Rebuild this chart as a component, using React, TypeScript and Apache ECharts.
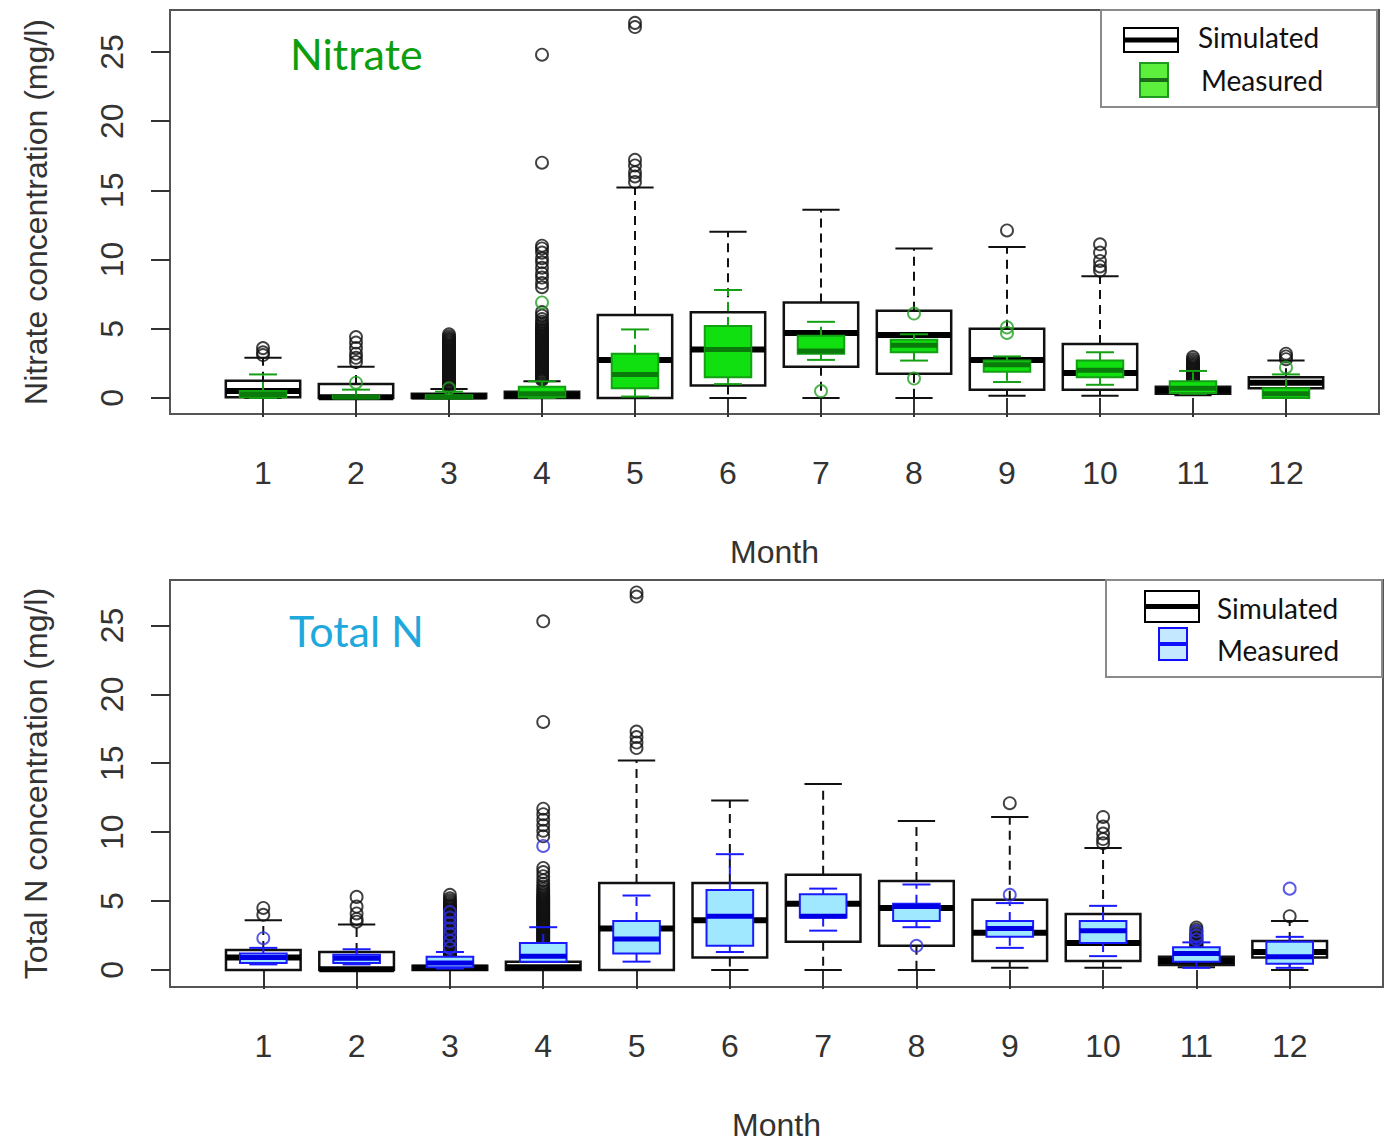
import React, { useEffect, useRef } from "react";
import * as echarts from "echarts";

// ---------- DATA ----------
const months = [1, 2, 3, 4, 5, 6, 7, 8, 9, 10, 11, 12];
const yTicks = [0, 5, 10, 15, 20, 25];

// [lowerWhisker, q1, median, q3, upperWhisker]
const nitrateSimulated = [
  [0, 0.05, 0.5, 1.24, 2.9],
  [0, 0, 0.05, 1.0, 2.25],
  [0, 0, 0.1, 0.3, 0.65],
  [0, 0, 0.2, 0.45, 1.2],
  [0, 0, 2.75, 6.0, 15.2],
  [0, 0.9, 3.5, 6.2, 12.0],
  [0, 2.25, 4.7, 6.9, 13.6],
  [0, 1.75, 4.55, 6.3, 10.8],
  [0.15, 0.6, 2.75, 5.0, 10.9],
  [0.15, 0.6, 1.8, 3.9, 8.8],
  [0.2, 0.3, 0.55, 0.8, 1.05],
  [0.6, 0.7, 1.1, 1.5, 2.7],
];
const nitrateMeasured = [
  [0.0, 0.05, 0.25, 0.5, 1.7],
  [0.0, 0.0, 0.05, 0.15, 0.6],
  [0.0, 0.0, 0.05, 0.2, 0.45],
  [0.0, 0.05, 0.3, 0.8, 1.2],
  [0.1, 0.7, 1.7, 3.2, 4.95],
  [1.0, 1.5, 3.5, 5.2, 7.8],
  [2.75, 3.2, 3.4, 4.5, 5.5],
  [2.7, 3.3, 3.8, 4.2, 4.6],
  [1.15, 1.9, 2.4, 2.7, 3.0],
  [0.95, 1.5, 2.0, 2.7, 3.3],
  [0.3, 0.35, 0.7, 1.2, 1.95],
  [0.0, 0.0, 0.3, 0.7, 1.7],
];
const nitrateSimOutliers = [
  [3.1, 3.3, 3.6],
  [2.6, 2.9, 3.2, 3.6, 4.0, 4.4],
  [0.72, 0.79, 0.88, 0.95, 1.04, 1.11, 1.19, 1.28, 1.36, 1.43, 1.52, 1.6, 1.67, 1.76, 1.84, 1.91, 2.0, 2.08, 2.15, 2.24, 2.32, 2.4, 2.47, 2.56, 2.63, 2.72, 2.8, 2.87, 2.96, 3.04, 3.11, 3.2, 3.27, 3.36, 3.44, 3.51, 3.6, 3.68, 3.75, 3.84, 3.92, 4.0, 4.07, 4.16, 4.24, 4.33, 4.45, 4.6],
  [1.31, 1.38, 1.47, 1.55, 1.62, 1.71, 1.79, 1.86, 1.95, 2.03, 2.1, 2.19, 2.27, 2.35, 2.42, 2.51, 2.59, 2.66, 2.75, 2.83, 2.9, 2.99, 3.07, 3.14, 3.23, 3.31, 3.39, 3.46, 3.55, 3.63, 3.7, 3.79, 3.87, 3.94, 4.03, 4.11, 4.18, 4.27, 4.35, 4.43, 4.5, 4.59, 4.67, 4.74, 4.83, 4.91, 5.0, 5.1, 5.22, 5.35, 5.5, 5.7, 5.95, 6.2, 8.0, 8.3, 8.7, 9.0, 9.4, 9.8, 10.1, 10.5, 10.8, 11.0, 17.0, 24.8],
  [15.6, 16.0, 16.3, 16.8, 17.2, 26.8, 27.1],
  [],
  [],
  [],
  [12.1],
  [9.2, 9.5, 9.9, 10.5, 11.1],
  [1.08, 1.15, 1.24, 1.31, 1.4, 1.48, 1.55, 1.64, 1.72, 1.79, 1.88, 1.96, 2.03, 2.12, 2.2, 2.28, 2.36, 2.45, 2.55, 2.66, 2.8, 2.95],
  [2.8, 3.0, 3.2],
];
const nitrateMeasOutliers = [
  [],
  [1.1],
  [0.7],
  [6.9],
  [],
  [],
  [0.5],
  [6.1, 1.4],
  [4.7, 5.1],
  [],
  [],
  [2.2],
];

const totalNSimulated = [
  [0, 0, 0.9, 1.45, 3.6],
  [0, 0, 0.05, 1.3, 3.3],
  [0, 0, 0.15, 0.3, 0.7],
  [0, 0, 0.2, 0.6, 1.3],
  [0, 0, 3.0, 6.3, 15.2],
  [0, 0.9, 3.6, 6.3, 12.3],
  [0, 2.05, 4.8, 6.9, 13.5],
  [0, 1.75, 4.5, 6.45, 10.8],
  [0.15, 0.65, 2.7, 5.1, 11.1],
  [0.15, 0.65, 1.95, 4.05, 8.85],
  [0.2, 0.35, 0.65, 0.95, 1.3],
  [0, 0.9, 1.3, 2.1, 3.55],
];
const totalNMeasured = [
  [0.4, 0.5, 0.9, 1.2, 1.6],
  [0.4, 0.5, 0.85, 1.1, 1.5],
  [0.1, 0.2, 0.5, 0.95, 1.3],
  [0.6, 0.6, 1.0, 1.95, 3.1],
  [0.6, 1.2, 2.25, 3.55, 5.4],
  [1.3, 1.75, 3.9, 5.8, 8.4],
  [2.85, 3.8, 3.9, 5.5, 5.9],
  [3.1, 3.55, 4.6, 4.8, 6.2],
  [1.6, 2.4, 3.0, 3.55, 4.85],
  [1.0, 1.95, 2.85, 3.55, 4.65],
  [0.15, 0.6, 1.2, 1.65, 2.0],
  [0.15, 0.45, 0.95, 2.05, 2.4],
];
const totalNSimOutliers = [
  [4.0, 4.5],
  [3.5, 3.7, 4.1, 4.6, 5.3],
  [0.78, 0.86, 0.93, 1.02, 1.1, 1.17, 1.26, 1.34, 1.41, 1.5, 1.58, 1.65, 1.74, 1.82, 1.89, 1.98, 2.06, 2.13, 2.22, 2.3, 2.38, 2.45, 2.54, 2.62, 2.69, 2.78, 2.86, 2.93, 3.02, 3.1, 3.17, 3.26, 3.34, 3.41, 3.5, 3.58, 3.65, 3.74, 3.82, 3.9, 3.97, 4.06, 4.14, 4.21, 4.3, 4.38, 4.45, 4.54, 4.62, 4.7, 4.8, 4.92, 5.05, 5.2, 5.45],
  [1.4, 1.48, 1.55, 1.64, 1.72, 1.79, 1.88, 1.96, 2.03, 2.12, 2.2, 2.27, 2.36, 2.44, 2.51, 2.6, 2.68, 2.75, 2.84, 2.92, 2.99, 3.08, 3.16, 3.23, 3.32, 3.4, 3.47, 3.56, 3.64, 3.71, 3.8, 3.88, 3.95, 4.04, 4.12, 4.19, 4.28, 4.36, 4.43, 4.52, 4.6, 4.67, 4.76, 4.84, 4.91, 5.0, 5.08, 5.16, 5.25, 5.35, 5.46, 5.58, 5.72, 5.88, 6.05, 6.25, 6.5, 6.8, 7.1, 7.4, 9.7, 10.1, 10.5, 10.9, 11.3, 11.7, 18.0, 25.3],
  [16.1, 16.5, 16.9, 17.3, 27.1, 27.4],
  [],
  [],
  [],
  [12.1],
  [9.2, 9.5, 9.9, 10.4, 11.1],
  [1.32, 1.4, 1.47, 1.56, 1.64, 1.71, 1.8, 1.88, 1.95, 2.04, 2.12, 2.19, 2.28, 2.36, 2.45, 2.55, 2.66, 2.78, 2.92, 3.08],
  [3.9],
];
const totalNMeasOutliers = [
  [2.3],
  [],
  [1.6, 2.1, 2.6, 3.0, 3.4, 3.8, 4.2],
  [9.0],
  [],
  [],
  [],
  [1.75],
  [5.45],
  [],
  [2.2, 2.5, 2.8],
  [5.9],
];

// ---------- HELPERS ----------
const AXIS_FONT = "Liberation Sans";
const LABEL_FONT = "Lato";
const TEXT_COLOR = "#333";

function boxData(stats: number[][]) {
  return stats.map((s, i) => [months[i], s[0], s[1], s[2], s[3], s[4]]);
}
function outlierData(lists: number[][]) {
  const out: number[][] = [];
  lists.forEach((l, i) => l.forEach((v) => out.push([months[i], v])));
  return out;
}

function makeRender(o: {
  boxW: number;
  capW: number;
  fill: string;
  stroke: string;
  median: string;
  boxLW: number;
  whiskLW: number;
  medLW: number;
}) {
  return (params: any, api: any) => {
    const x = api.value(0);
    const lo = api.value(1);
    const q1 = api.value(2);
    const med = api.value(3);
    const q3 = api.value(4);
    const hi = api.value(5);
    const bw = api.size([o.boxW, 0])[0];
    const cw = api.size([o.capW, 0])[0];
    const pLo = api.coord([x, lo]);
    const pQ1 = api.coord([x, q1]);
    const pMed = api.coord([x, med]);
    const pQ3 = api.coord([x, q3]);
    const pHi = api.coord([x, hi]);
    const cx = pLo[0];
    const dash = [9, 6];
    return {
      type: "group",
      children: [
        {
          type: "line",
          shape: { x1: cx, y1: pQ3[1], x2: cx, y2: pHi[1] },
          style: { stroke: o.stroke, lineWidth: o.whiskLW, lineDash: dash },
        },
        {
          type: "line",
          shape: { x1: cx, y1: pQ1[1], x2: cx, y2: pLo[1] },
          style: { stroke: o.stroke, lineWidth: o.whiskLW, lineDash: dash },
        },
        {
          type: "line",
          shape: { x1: cx - cw / 2, y1: pHi[1], x2: cx + cw / 2, y2: pHi[1] },
          style: { stroke: o.stroke, lineWidth: o.whiskLW },
        },
        {
          type: "line",
          shape: { x1: cx - cw / 2, y1: pLo[1], x2: cx + cw / 2, y2: pLo[1] },
          style: { stroke: o.stroke, lineWidth: o.whiskLW },
        },
        {
          type: "rect",
          shape: { x: cx - bw / 2, y: pQ3[1], width: bw, height: pQ1[1] - pQ3[1] },
          style: { fill: o.fill, stroke: o.stroke, lineWidth: o.boxLW },
        },
        {
          type: "line",
          shape: { x1: cx - bw / 2, y1: pMed[1], x2: cx + bw / 2, y2: pMed[1] },
          style: { stroke: o.median, lineWidth: o.medLW },
        },
      ],
    };
  };
}

function panelAxes(idx: number, yMin: number, yMax: number, yName: string) {
  const x = {
    type: "value",
    gridIndex: idx,
    min: 0,
    max: 13,
    axisLine: { show: false },
    splitLine: { show: false },
    axisTick: { show: true, length: 19, customValues: months, lineStyle: { color: TEXT_COLOR, width: 2 } },
    axisLabel: { customValues: months, fontSize: 32, color: TEXT_COLOR, margin: 43, fontFamily: AXIS_FONT },
    name: "Month",
    nameLocation: "middle",
    nameGap: 122,
    nameTextStyle: { fontSize: 32, color: TEXT_COLOR, fontFamily: AXIS_FONT },
  };
  const y = {
    type: "value",
    gridIndex: idx,
    min: yMin,
    max: yMax,
    axisLine: { show: false },
    splitLine: { show: false },
    axisTick: { show: true, length: 19, customValues: yTicks, lineStyle: { color: TEXT_COLOR, width: 2 } },
    axisLabel: { customValues: yTicks, fontSize: 32, color: TEXT_COLOR, margin: 42, rotate: 90, fontFamily: AXIS_FONT },
    name: yName,
    nameLocation: "middle",
    nameRotate: 90,
    nameGap: 118,
    nameTextStyle: { fontSize: 32, color: TEXT_COLOR, fontFamily: AXIS_FONT },
  };
  return { x, y };
}

function panelSeries(
  idx: number,
  sim: number[][],
  meas: number[][],
  simOut: number[][],
  measOut: number[][],
  fill: string,
  stroke: string,
  median: string,
  outColor: string
) {
  return [
    {
      type: "custom",
      xAxisIndex: idx,
      yAxisIndex: idx,
      renderItem: makeRender({
        boxW: 0.8,
        capW: 0.4,
        fill: "#ffffff",
        stroke: "#111",
        median: "#000",
        boxLW: 2.5,
        whiskLW: 2,
        medLW: 6,
      }),
      data: boxData(sim),
      z: 2,
    },
    {
      type: "scatter",
      xAxisIndex: idx,
      yAxisIndex: idx,
      symbol: "circle",
      symbolSize: 12,
      itemStyle: { color: "rgba(0,0,0,0)", borderColor: "#111", borderWidth: 1.9 },
      data: outlierData(simOut),
      z: 3,
    },
    {
      type: "custom",
      xAxisIndex: idx,
      yAxisIndex: idx,
      renderItem: makeRender({
        boxW: 0.5,
        capW: 0.3,
        fill,
        stroke,
        median,
        boxLW: 2,
        whiskLW: 2,
        medLW: 5,
      }),
      data: boxData(meas),
      z: 4,
    },
    {
      type: "scatter",
      xAxisIndex: idx,
      yAxisIndex: idx,
      symbol: "circle",
      symbolSize: 12,
      itemStyle: { color: "rgba(0,0,0,0)", borderColor: outColor, borderWidth: 1.9 },
      data: outlierData(measOut),
      z: 5,
    },
  ];
}

function legendGraphics(
  top: number,
  left: number,
  simBox: { x: number; y: number; w: number; h: number },
  measBox: { x: number; y: number; w: number; h: number },
  simTextX: number,
  simTextY: number,
  measTextX: number,
  measTextY: number,
  measFill: string,
  measStroke: string,
  measMedian: string
) {
  return [
    {
      type: "rect",
      shape: { x: left, y: top, width: 276, height: 97 },
      style: { fill: "#fff", stroke: "#8a8a8a", lineWidth: 2 },
      z: 100,
    },
    {
      type: "rect",
      shape: { x: simBox.x, y: simBox.y, width: simBox.w, height: simBox.h },
      style: { fill: "#fff", stroke: "#000", lineWidth: 2 },
      z: 101,
    },
    {
      type: "line",
      shape: { x1: simBox.x, y1: simBox.y + simBox.h / 2, x2: simBox.x + simBox.w, y2: simBox.y + simBox.h / 2 },
      style: { stroke: "#000", lineWidth: 5 },
      z: 102,
    },
    {
      type: "rect",
      shape: { x: measBox.x, y: measBox.y, width: measBox.w, height: measBox.h },
      style: { fill: measFill, stroke: measStroke, lineWidth: 2 },
      z: 101,
    },
    {
      type: "line",
      shape: { x1: measBox.x, y1: measBox.y + measBox.h / 2, x2: measBox.x + measBox.w, y2: measBox.y + measBox.h / 2 },
      style: { stroke: measMedian, lineWidth: 4 },
      z: 102,
    },
    {
      type: "text",
      x: simTextX,
      y: simTextY,
      style: { text: "Simulated", fontSize: 28, fontFamily: LABEL_FONT, fill: "#111", verticalAlign: "middle" },
      z: 102,
    },
    {
      type: "text",
      x: measTextX,
      y: measTextY,
      style: { text: "Measured", fontSize: 28, fontFamily: LABEL_FONT, fill: "#111", verticalAlign: "middle" },
      z: 102,
    },
  ];
}

export default function App() {
  const ref = useRef<HTMLDivElement>(null);

  useEffect(() => {
    document.body.style.margin = "0";
    if (!ref.current) return;
    const chart = echarts.init(ref.current, null, { renderer: "svg" });

    const a1 = panelAxes(0, -1.16, 28.03, "Nitrate concentration (mg/l)");
    const a2 = panelAxes(1, -1.24, 28.3, "Total N concentration (mg/l)");

    const option: any = {
      animation: false,
      backgroundColor: "#fff",
      grid: [
        { left: 170, top: 10, width: 1209, height: 404, show: true, borderColor: "#555", borderWidth: 2, backgroundColor: "#fff" },
        { left: 170, top: 580, width: 1213, height: 407, show: true, borderColor: "#555", borderWidth: 2, backgroundColor: "#fff" },
      ],
      xAxis: [a1.x, a2.x],
      yAxis: [a1.y, a2.y],
      series: [
        ...panelSeries(0, nitrateSimulated, nitrateMeasured, nitrateSimOutliers, nitrateMeasOutliers, "#10e010", "#13a013", "#0a7a0a", "#22a022"),
        ...panelSeries(1, totalNSimulated, totalNMeasured, totalNSimOutliers, totalNMeasOutliers, "#9fe8ff", "#1a1aff", "#0000e6", "#3030e0"),
      ],
      graphic: [
        {
          type: "text",
          x: 290,
          y: 53,
          style: { text: "Nitrate", fontSize: 43, fontFamily: LABEL_FONT, fill: "#0c9e0c", verticalAlign: "middle" },
          z: 100,
        },
        {
          type: "text",
          x: 289,
          y: 630,
          style: { text: "Total N", fontSize: 43, fontFamily: LABEL_FONT, fill: "#1ea8dc", verticalAlign: "middle" },
          z: 100,
        },
        ...legendGraphics(
          10,
          1101,
          { x: 1124, y: 28, w: 54, h: 24 },
          { x: 1140, y: 63, w: 28, h: 34 },
          1198,
          37,
          1201,
          80,
          "#5cf03c",
          "#1f9a1f",
          "#1a6a1a"
        ),
        ...legendGraphics(
          580,
          1106,
          { x: 1145, y: 591, w: 54, h: 31 },
          { x: 1159, y: 628, w: 28, h: 32 },
          1217,
          608,
          1217,
          650,
          "#c4e8ff",
          "#1010ff",
          "#1010ff"
        ),
      ],
    };

    chart.setOption(option);
    return () => chart.dispose();
  }, []);

  return <div ref={ref} style={{ width: 1385, height: 1144 }} />;
}
